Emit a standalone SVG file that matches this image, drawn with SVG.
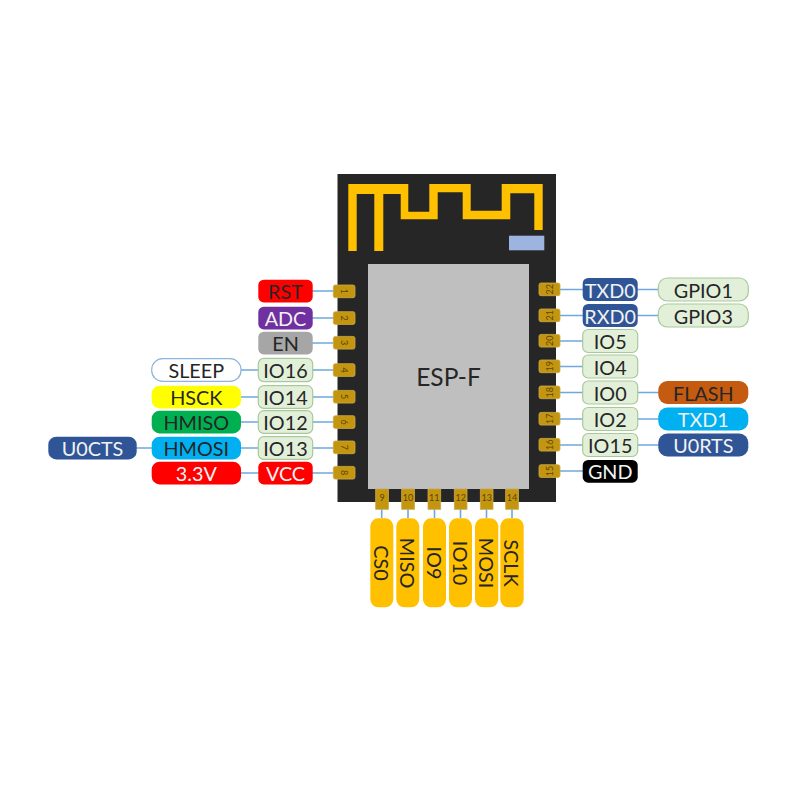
<svg xmlns="http://www.w3.org/2000/svg" width="800" height="800" viewBox="0 0 800 800">
<style>
text{font-family:Lato,"Liberation Sans",sans-serif;text-anchor:middle;dominant-baseline:central}
.t{font-size:19.8px;fill:#262626}
.w{font-size:19.8px;fill:#f2f2f2}
.n{font-size:9px;fill:#5a4506}
.pad{fill:#c4960f;stroke:#c9a94a;stroke-width:.8}
.lab{stroke-width:1.2}
.g{fill:#e2f0d9;stroke:#a9c99a}
.c{fill:none;stroke:#6fa8dc;stroke-width:1.6}
.y{fill:#ffc000}
</style>
<rect width="800" height="800" fill="#fff"/>
<g id="module">
<rect x="337.500" y="174" width="218.500" height="328" fill="#262626"/>
<path fill="#ffc000" d="M348.300 184H408.300V211.700H429.300V184H470.700V210.700H501.700V184H542.700V230H534.300V193.300H510.300V219.300H462.700V192.300H437.700V219.300H400.700V194H383.300V251H374.300V194H356.700V251H348.300Z"/>
<rect x="509" y="235.700" width="35.300" height="14.600" fill="#9db3e0"/>
<rect x="368" y="264" width="161" height="225" fill="#bfbfbf"/>
<text x="448.500" y="376" style="font-size:24.500px" fill="#262626">ESP-F</text>
</g>
<g id="connectors" class="c">
<path d="M312 291H334M312 318H334M312 343H334M312 370H334M312 397H334M312 422H334M312 448H334M312 473H334"/>
<path d="M241 370H259M241 397H259M241 422H259M241 448H259M241 473H259M136 448H152"/>
<path d="M560 289.500H583M560 315.500H583M560 341H583M560 366.500H583M560 392.500H583M560 419H583M560 445H583M560 471H583"/>
<path d="M637 289.500H659M637 315.500H659M637 392.500H659M637 419H659M637 445H659"/>
<path d="M381.700 509V518M408 509V518M434.500 509V518M460.500 509V518M486.500 509V518M512 509V518"/>
</g>
<g id="pads">
<g id="pads-left">
<rect class="pad" x="333.300" y="285" width="21.700" height="12.700" rx="2"/><text class="n" transform="translate(344.500 291.300) rotate(90)">1</text>
<rect class="pad" x="333.300" y="311.700" width="21.700" height="12.700" rx="2"/><text class="n" transform="translate(344.500 318) rotate(90)">2</text>
<rect class="pad" x="333.300" y="336.400" width="21.700" height="12.700" rx="2"/><text class="n" transform="translate(344.500 342.700) rotate(90)">3</text>
<rect class="pad" x="333.300" y="363.700" width="21.700" height="12.700" rx="2"/><text class="n" transform="translate(344.500 370) rotate(90)">4</text>
<rect class="pad" x="333.300" y="390.400" width="21.700" height="12.700" rx="2"/><text class="n" transform="translate(344.500 396.700) rotate(90)">5</text>
<rect class="pad" x="333.300" y="415.700" width="21.700" height="12.700" rx="2"/><text class="n" transform="translate(344.500 422) rotate(90)">6</text>
<rect class="pad" x="333.300" y="441" width="21.700" height="12.700" rx="2"/><text class="n" transform="translate(344.500 447.300) rotate(90)">7</text>
<rect class="pad" x="333.300" y="466.400" width="21.700" height="12.700" rx="2"/><text class="n" transform="translate(344.500 472.700) rotate(90)">8</text>
</g>
<g id="pads-right">
<rect class="pad" x="539" y="283" width="21" height="12.700" rx="2"/><text class="n" transform="translate(549.500 289.300) rotate(-90)">22</text>
<rect class="pad" x="539" y="309" width="21" height="12.700" rx="2"/><text class="n" transform="translate(549.500 315.300) rotate(-90)">21</text>
<rect class="pad" x="539" y="334.400" width="21" height="12.700" rx="2"/><text class="n" transform="translate(549.500 340.700) rotate(-90)">20</text>
<rect class="pad" x="539" y="360" width="21" height="12.700" rx="2"/><text class="n" transform="translate(549.500 366.300) rotate(-90)">19</text>
<rect class="pad" x="539" y="386" width="21" height="12.700" rx="2"/><text class="n" transform="translate(549.500 392.300) rotate(-90)">18</text>
<rect class="pad" x="539" y="412.400" width="21" height="12.700" rx="2"/><text class="n" transform="translate(549.500 418.700) rotate(-90)">17</text>
<rect class="pad" x="539" y="438.400" width="21" height="12.700" rx="2"/><text class="n" transform="translate(549.500 444.700) rotate(-90)">16</text>
<rect class="pad" x="539" y="464.700" width="21" height="12.700" rx="2"/><text class="n" transform="translate(549.500 471) rotate(-90)">15</text>
</g>
<g id="pads-bottom">
<rect class="pad" x="375.700" y="489" width="12.700" height="20.300"/><text class="n" x="382" y="497">9</text>
<rect class="pad" x="401.700" y="489" width="12.700" height="20.300"/><text class="n" x="408" y="497">10</text>
<rect class="pad" x="428" y="489" width="12.700" height="20.300"/><text class="n" x="434.300" y="497">11</text>
<rect class="pad" x="454.300" y="489" width="12.700" height="20.300"/><text class="n" x="460.700" y="497">12</text>
<rect class="pad" x="480.300" y="489" width="12.700" height="20.300"/><text class="n" x="486.700" y="497">13</text>
<rect class="pad" x="505.700" y="489" width="12.700" height="20.300"/><text class="n" x="512" y="497">14</text>
</g>
</g>
<g id="n-rst"><rect class="lab" x="258.300" y="279.700" width="54.400" height="22.700" rx="5.500" fill="#ff0000"/><text class="t" x="285.500" y="291">RST</text></g>
<g id="n-adc"><rect class="lab" x="258.300" y="306.700" width="54.400" height="22.700" rx="5.500" fill="#7030a0"/><text class="w" x="285.500" y="318">ADC</text></g>
<g id="n-en"><rect class="lab" x="258.300" y="331.700" width="54.400" height="22.700" rx="5.500" fill="#a6a6a6"/><text class="t" x="285.500" y="343">EN</text></g>
<g id="n-io16"><rect class="lab g" x="258.300" y="358.400" width="54.400" height="23.200" rx="5.500"/><text class="t" x="285.500" y="370">IO16</text></g>
<g id="n-io14"><rect class="lab g" x="258.300" y="385.700" width="54.400" height="22.700" rx="5.500"/><text class="t" x="285.500" y="397">IO14</text></g>
<g id="n-io12"><rect class="lab g" x="258.300" y="410.700" width="54.400" height="22.700" rx="5.500"/><text class="t" x="285.500" y="422">IO12</text></g>
<g id="n-io13"><rect class="lab g" x="258.300" y="436.700" width="54.400" height="22.700" rx="5.500"/><text class="t" x="285.500" y="448">IO13</text></g>
<g id="n-vcc"><rect class="lab" x="258.300" y="461.700" width="54.400" height="22.700" rx="5.500" fill="#ff0000"/><text class="w" x="285.500" y="473">VCC</text></g>
<g id="n-sleep"><rect class="lab" x="151.700" y="358.700" width="89.300" height="22.700" rx="11" fill="#fff" stroke="#8db4dc"/><text class="t" x="196.300" y="370">SLEEP</text></g>
<g id="n-hsck"><rect class="lab" x="151.700" y="385.700" width="89.300" height="22.700" rx="8" fill="#ffff00"/><text class="t" x="196.300" y="397">HSCK</text></g>
<g id="n-hmiso"><rect class="lab" x="151.700" y="410.700" width="89.300" height="22.700" rx="8" fill="#00b050"/><text class="t" x="196.300" y="422">HMISO</text></g>
<g id="n-hmosi"><rect class="lab" x="151.700" y="436.700" width="89.300" height="22.700" rx="8" fill="#00b0f0"/><text class="t" x="196.300" y="448">HMOSI</text></g>
<g id="n-33v"><rect class="lab" x="151.700" y="461.700" width="89.300" height="22.700" rx="8" fill="#ff0000"/><text class="w" x="196.300" y="473">3.3V</text></g>
<g id="n-u0cts"><rect class="lab" x="48.300" y="436.700" width="88.400" height="22.700" rx="8" fill="#2f5597"/><text class="w" x="92.500" y="448">U0CTS</text></g>
<g id="n-txd0"><rect class="lab" x="582.700" y="278" width="55" height="23" rx="5.500" fill="#2f5597"/><text class="w" x="610.200" y="289.500">TXD0</text></g>
<g id="n-rxd0"><rect class="lab" x="582.700" y="304" width="55" height="23" rx="5.500" fill="#2f5597"/><text class="w" x="610.200" y="315.500">RXD0</text></g>
<g id="n-io5"><rect class="lab g" x="582.700" y="329.500" width="55" height="23" rx="5.500"/><text class="t" x="610.200" y="341">IO5</text></g>
<g id="n-io4"><rect class="lab g" x="582.700" y="355" width="55" height="23" rx="5.500"/><text class="t" x="610.200" y="366.500">IO4</text></g>
<g id="n-io0"><rect class="lab g" x="582.700" y="381" width="55" height="23" rx="5.500"/><text class="t" x="610.200" y="392.500">IO0</text></g>
<g id="n-io2"><rect class="lab g" x="582.700" y="407.500" width="55" height="23" rx="5.500"/><text class="t" x="610.200" y="419">IO2</text></g>
<g id="n-io15"><rect class="lab g" x="582.700" y="433.500" width="55" height="23" rx="5.500"/><text class="t" x="610.200" y="445">IO15</text></g>
<g id="n-gnd"><rect class="lab" x="582.700" y="460" width="55" height="22.700" rx="5.500" fill="#000"/><text class="w" x="610.200" y="471">GND</text></g>
<g id="n-gpio1"><rect class="lab g" x="658.300" y="278" width="90" height="23" rx="9"/><text class="t" x="703.300" y="289.500">GPIO1</text></g>
<g id="n-gpio3"><rect class="lab g" x="658.300" y="304" width="90" height="23" rx="9"/><text class="t" x="703.300" y="315.500">GPIO3</text></g>
<g id="n-flash"><rect class="lab" x="658.300" y="381" width="90" height="23" rx="9" fill="#c55a11"/><text class="t" x="703.300" y="392.500">FLASH</text></g>
<g id="n-txd1"><rect class="lab" x="658.300" y="407.500" width="90" height="23" rx="9" fill="#00b0f0"/><text class="w" x="703.300" y="419">TXD1</text></g>
<g id="n-u0rts"><rect class="lab" x="658.300" y="433.500" width="90" height="23" rx="9" fill="#2f5597"/><text class="w" x="703.300" y="445">U0RTS</text></g>
<g id="n-cs0"><rect class="y" x="370.300" y="518.300" width="23" height="89" rx="8"/><text class="t" transform="translate(381.800 563) rotate(90)">CS0</text></g>
<g id="n-miso"><rect class="y" x="396.300" y="518.300" width="23" height="89" rx="8"/><text class="t" transform="translate(407.800 563) rotate(90)">MISO</text></g>
<g id="n-io9"><rect class="y" x="423" y="518.300" width="23" height="89" rx="8"/><text class="t" transform="translate(434.500 563) rotate(90)">IO9</text></g>
<g id="n-io10"><rect class="y" x="449" y="518.300" width="23" height="89" rx="8"/><text class="t" transform="translate(460.500 563) rotate(90)">IO10</text></g>
<g id="n-mosi"><rect class="y" x="475" y="518.300" width="23.300" height="89" rx="8"/><text class="t" transform="translate(486.700 563) rotate(90)">MOSI</text></g>
<g id="n-sclk"><rect class="y" x="500.300" y="518.300" width="23.400" height="89" rx="8"/><text class="t" transform="translate(512 563) rotate(90)">SCLK</text></g>
</svg>
